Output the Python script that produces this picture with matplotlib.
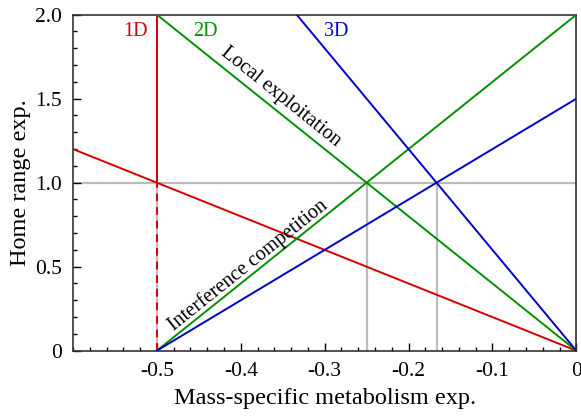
import numpy as np
import matplotlib
matplotlib.use("Agg")
import matplotlib.pyplot as plt
from matplotlib.ticker import MultipleLocator

plt.rcParams['font.family'] = ['Liberation Serif', 'DejaVu Serif']
plt.rcParams['mathtext.fontset'] = 'stix'

# Data: endpoints of each line (x, y)
red_diag_x = [-0.6, 0.0]; red_diag_y = [1.2, 0.0]
red_vert_x = [-0.5, -0.5]; red_vert_y = [1.0, 2.0]
red_dash_x = [-0.5, -0.5]; red_dash_y = [0.0, 1.0]
green_down_x = [-0.5, 0.0]; green_down_y = [2.0, 0.0]
green_up_x = [-0.5, 0.0]; green_up_y = [0.0, 2.0]
blue_down_x = [-1/3, 0.0]; blue_down_y = [2.0, 0.0]
blue_up_x = [-0.5, 0.0]; blue_up_y = [0.0, 1.5]
grey_vert_x = [-0.5, -0.25, -1/6]
x_ticks = [-0.5, -0.4, -0.3, -0.2, -0.1, 0.0]
x_ticklabels = ['-0.5', '-0.4', '-0.3', '-0.2', '-0.1', '0']
y_ticks = [0, 0.5, 1.0, 1.5, 2.0]
y_ticklabels = ['0', '0.5', '1.0', '1.5', '2.0']

RED = '#d40000'
GREEN = '#008f00'
BLUE = '#0000cc'
GREY = '#bbbbbb'

fig = plt.figure(figsize=(5.81, 4.16), dpi=100)
ax = fig.add_axes([0.1256, 0.157, 0.8664, 0.8077])

ax.axhline(1.0, color=GREY, lw=1.6, zorder=1)
for gx in grey_vert_x:
    ax.plot([gx, gx], [0, 1], color=GREY, lw=1.6, zorder=1)

ax.plot(red_diag_x, red_diag_y, color=RED, lw=1.4, zorder=3)
ax.plot(red_vert_x, red_vert_y, color=RED, lw=1.4, zorder=3)
ax.plot(red_dash_x, red_dash_y, color=RED, lw=1.4, ls=(0, (4, 3)), zorder=3)
ax.plot(green_down_x, green_down_y, color=GREEN, lw=1.4, zorder=3)
ax.plot(green_up_x, green_up_y, color=GREEN, lw=1.4, zorder=3)
ax.plot(blue_down_x, blue_down_y, color=BLUE, lw=1.4, zorder=3)
ax.plot(blue_up_x, blue_up_y, color=BLUE, lw=1.4, zorder=3)

ax.set_xlim(-0.6, 0)
ax.set_ylim(0, 2)
ax.set_xticks(x_ticks)
ax.set_xticklabels(x_ticklabels)
ax.set_yticks(y_ticks)
ax.set_yticklabels(y_ticklabels)
ax.xaxis.set_minor_locator(MultipleLocator(0.02))
ax.yaxis.set_minor_locator(MultipleLocator(0.1))
ax.tick_params(which='both', direction='in', top=False, right=False, labelsize=15.5, pad=8)
ax.tick_params(which='major', length=6, width=1)
ax.tick_params(which='minor', length=3, width=1)
for s in ax.spines.values():
    s.set_color('#333333')
    s.set_linewidth(1.2)

ax.set_xlabel('Mass-specific metabolism exp.', fontsize=17.5, labelpad=5)
ax.set_ylabel('Home range exp.', fontsize=17.5, labelpad=3)

ax.text(-0.525, 1.897, '1D', color=RED, fontsize=14.5, ha='center', va='center')
ax.text(-0.442, 1.897, '2D', color=GREEN, fontsize=14.5, ha='center', va='center')
ax.text(-0.286, 1.897, '3D', color=BLUE, fontsize=14.5, ha='center', va='center')

ax.text(-0.353, 1.51, 'Local exploitation', fontsize=14.6, ha='center', va='center',
        rotation=np.degrees(np.arctan2(-4, 1)), rotation_mode='anchor', transform_rotates_text=True)
ax.text(-0.391, 0.51, 'Interference competition', fontsize=14.5, ha='center', va='center',
        rotation=np.degrees(np.arctan2(4, 1)), rotation_mode='anchor', transform_rotates_text=True)

fig.savefig('out.png', dpi=100)
